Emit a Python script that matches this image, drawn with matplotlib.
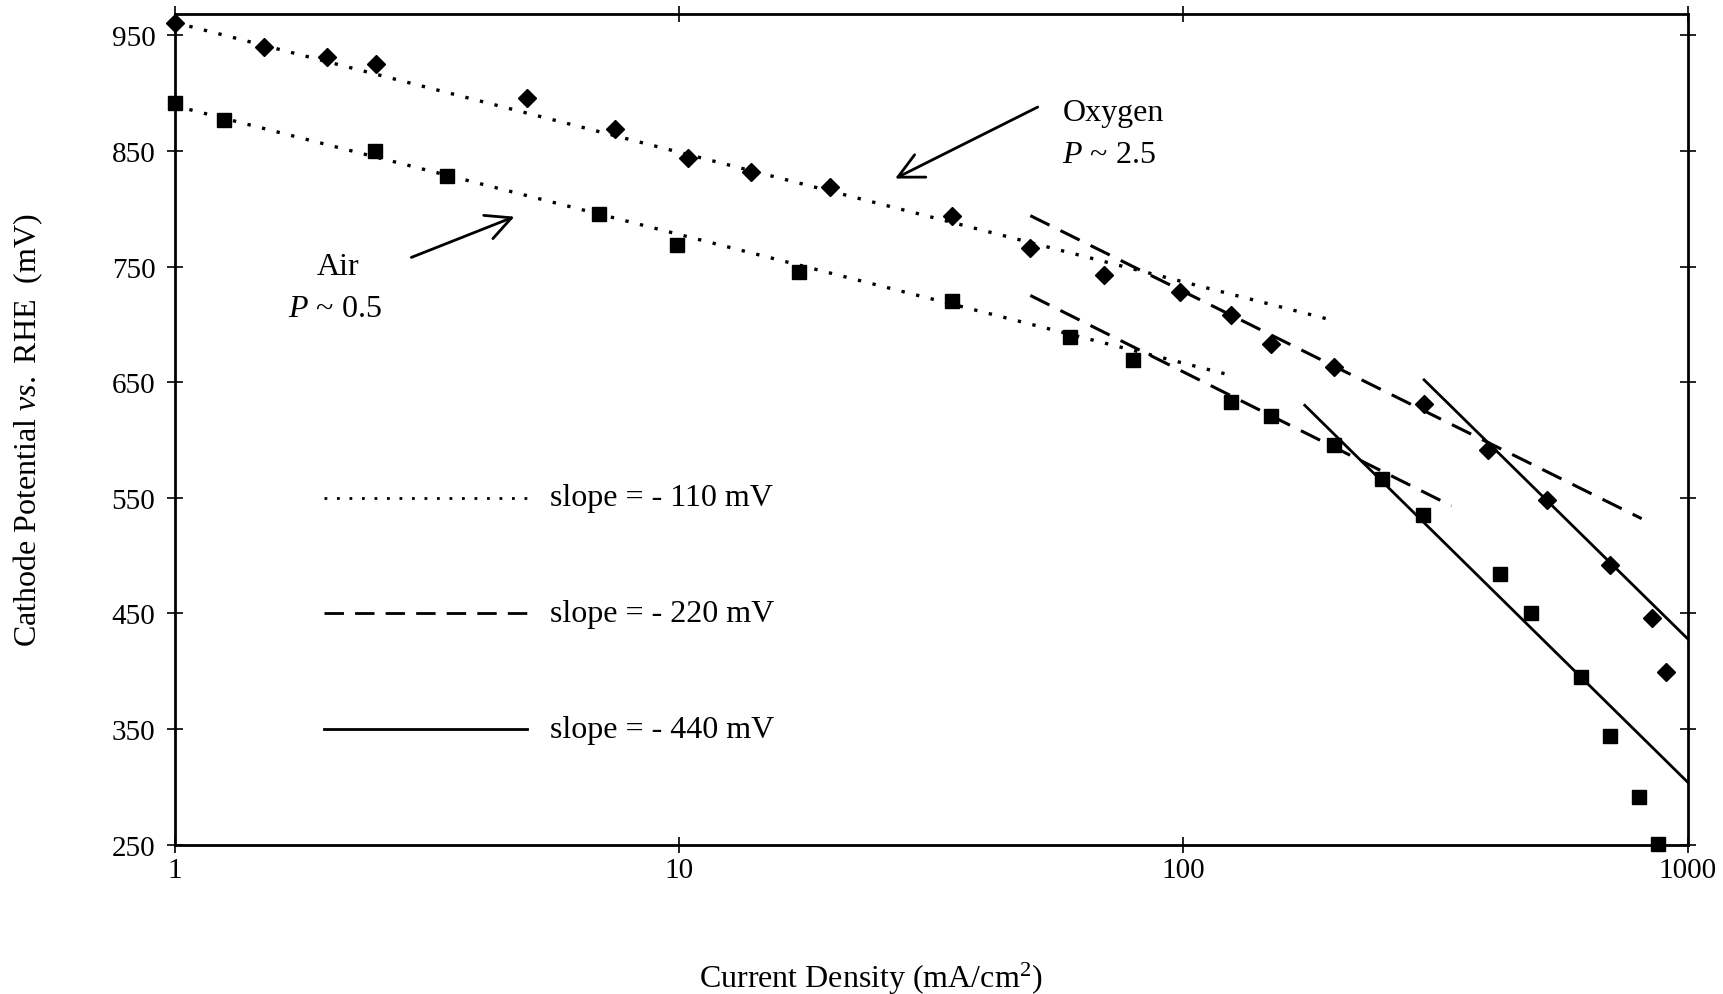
import matplotlib
matplotlib.use('Agg')
import matplotlib.pyplot as plt

plt.rcParams['font.family'] = ['Liberation Serif', 'DejaVu Serif']
plt.rcParams['mathtext.fontset'] = 'custom'
plt.rcParams['mathtext.rm'] = 'Liberation Serif'
plt.rcParams['mathtext.it'] = 'Liberation Serif:italic'

# Oxygen (diamonds)
oxy_x = [1.0, 1.5, 2.0, 2.5, 5.0, 7.45, 10.4, 13.9, 19.9, 34.8, 49.7, 69.6, 98.4,
         124.5, 149, 198.6, 300, 401, 526, 700, 851, 904]
oxy_y = [961, 940, 931, 925, 896, 869, 844, 832, 819, 794, 766, 743, 728,
         708, 683, 663, 631, 591, 548, 492, 446, 399]

# Air (squares)
air_x = [1.0, 1.25, 2.49, 3.47, 6.94, 9.9, 17.3, 34.8, 59.5, 79.6, 124.5, 149,
         198.6, 247.8, 298.2, 424, 488, 615, 700, 802, 873]
air_y = [891, 877, 850, 828, 795, 769, 745, 720, 689, 669, 633, 621,
         596, 566, 535, 484, 450, 395, 344, 291, 251]

# Tafel fit segments (end points)
oxy_dot_x, oxy_dot_y = [1.0, 195.6], [961, 704]
air_dot_x, air_dot_y = [1.0, 121.5], [889, 657]
oxy_dash_x, oxy_dash_y = [49.7, 810], [794, 532]
air_dash_x, air_dash_y = [49.7, 340], [725, 543]
oxy_solid_x, oxy_solid_y = [300, 1000], [652, 428]
air_solid_x, air_solid_y = [174, 1000], [630, 304]

legend_labels = ['slope = - 110 mV', 'slope = - 220 mV', 'slope = - 440 mV']
legend_y = [550, 450, 350]

fig = plt.figure(figsize=(17.24, 9.95), dpi=100)
ax = fig.add_axes([0.1014, 0.150, 0.8776, 0.8345])

k = 'black'
dot = (0, (1, 3.5))
dash = (0, (7, 4))
ax.plot(oxy_dot_x, oxy_dot_y, color=k, lw=2.4, ls=dot)
ax.plot(air_dot_x, air_dot_y, color=k, lw=2.4, ls=dot)
ax.plot(oxy_dash_x, oxy_dash_y, color=k, lw=2.2, ls=dash)
ax.plot(air_dash_x, air_dash_y, color=k, lw=2.2, ls=dash)
ax.plot(oxy_solid_x, oxy_solid_y, color=k, lw=2, ls='-')
ax.plot(air_solid_x, air_solid_y, color=k, lw=2, ls='-')

ax.plot(oxy_x, oxy_y, 'D', color=k, ms=9.5, clip_on=False, zorder=5)
ax.plot(air_x, air_y, 's', color=k, ms=10.5, clip_on=False, zorder=5)

# hand-made legend
styles = [dot, dash, '-']
for lab, yy, st in zip(legend_labels, legend_y, styles):
    ax.plot([1.98, 5.0], [yy, yy], color=k, lw=2, ls=st)
    ax.text(5.55, yy, lab, fontsize=23, va='center', ha='left')

# annotations
ax.text(57.5, 883, 'Oxygen', fontsize=23, ha='left', va='center')
ax.text(57.5, 847, r'$P$ ~ 2.5', fontsize=23, ha='left', va='center')
ax.annotate('', xy=(26.5, 825), xytext=(52, 889),
            arrowprops=dict(arrowstyle='->', color=k, lw=2, mutation_scale=45))
ax.text(2.11, 750, 'Air', fontsize=23, ha='center', va='center')
ax.text(2.08, 714, r'$P$ ~ 0.5', fontsize=23, ha='center', va='center')
ax.annotate('', xy=(4.77, 794), xytext=(2.91, 757),
            arrowprops=dict(arrowstyle='->', color=k, lw=2, mutation_scale=45))

ax.set_xscale('log')
ax.set_xlim(1, 1000)
ax.set_ylim(250, 968)
ax.set_xticks([1, 10, 100, 1000])
ax.set_xticklabels(['1', '10', '100', '1000'])
ax.minorticks_off()
ax.set_yticks([250, 350, 450, 550, 650, 750, 850, 950])

for s in ax.spines.values():
    s.set_linewidth(2)
ax.tick_params(axis='both', labelsize=21, direction='out', length=7, width=1.2)
ax.tick_params(top=True, right=True, direction='inout', length=12)
ax.tick_params(left=True, bottom=True)
ax.tick_params(axis='x', pad=3)
ax.tick_params(axis='y', pad=8)

ax.set_xlabel('Current Density (mA/cm$^2$)', fontsize=23)
ax.xaxis.set_label_coords(0.46, -0.138)
ax.set_ylabel(r'Cathode Potential $\it{vs.}$ RHE  (mV)', fontsize=23, labelpad=48)

plt.savefig('out.png', dpi=100)
